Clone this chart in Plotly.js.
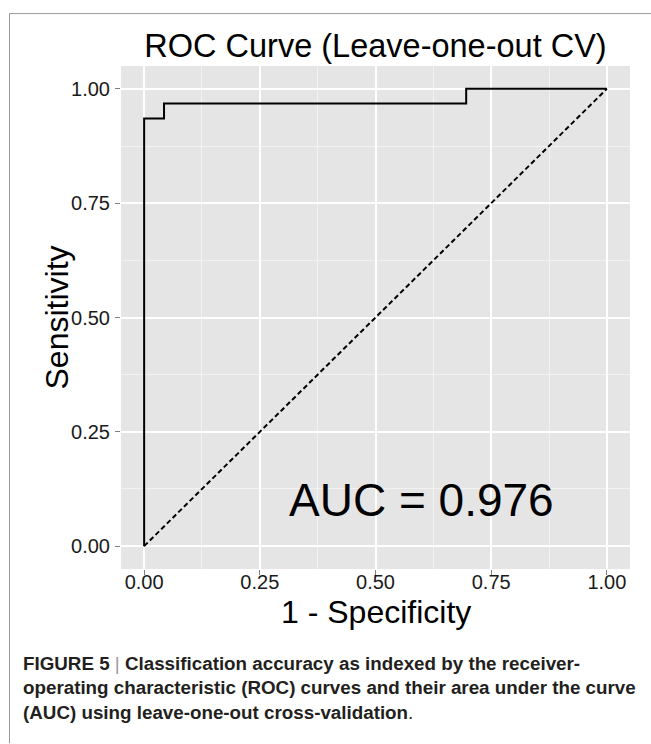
<!DOCTYPE html>
<html>
<head>
<meta charset="utf-8">
<script src="https://cdn.plot.ly/plotly-3.0.1.min.js"></script>
<style>html,body{margin:0;padding:0;background:#fff;}#chart{width:651px;height:744px;}</style>
</head>
<body>
<div id="chart"></div>
<script>
// ---- data ----
var rocFpr = [0, 0, 0.043, 0.696, 1];          // 1 - specificity at each step
var rocTpr = [0, 0.935, 0.968, 1, 1];          // sensitivity at each step
var chanceX = [0, 1];
var chanceY = [0, 1];
var tickVals = [0, 0.25, 0.5, 0.75, 1];
var tickText = ["0.00", "0.25", "0.50", "0.75", "1.00"];
var aucLabel = "AUC = 0.976";
var aucPos = [0.6, 0.1];
var titleText = "ROC Curve (Leave-one-out CV)";
var xTitle = "1 - Specificity";
var yTitle = "Sensitivity";
var captionLines = [
  "<b>FIGURE 5</b> <span style='color:#9a9a9a'>|</span> <b>Classification accuracy as indexed by the receiver-</b>",
  "<b>operating characteristic (ROC) curves and their area under the curve</b>",
  "<b>(AUC) using leave-one-out cross-validation</b>."
];

// ---- layout geometry (pixels) ----
var W = 651, H = 744;
var L = 121, R = 630, T = 66, B = 569.5;
var pw = R - L, ph = B - T;
function px(x){ return (x - L) / pw; }
function py(y){ return (B - y) / ph; }

var FONT = "'Liberation Sans', Arial, Helvetica, sans-serif";

var traces = [
  {x: chanceX, y: chanceY, type: "scatter", mode: "lines",
   line: {color: "#000", width: 2, dash: "5px,3px"}, hoverinfo: "skip", showlegend: false},
  {x: rocFpr, y: rocTpr, type: "scatter", mode: "lines",
   line: {color: "#000", width: 2, shape: "hv"}, hoverinfo: "skip", showlegend: false}
];

function axis(standoff){
  return {
    range: [-0.05, 1.05], autorange: false,
    tickvals: tickVals, ticktext: tickText,
    ticks: "outside", ticklen: 5, tickwidth: 1, tickcolor: "#7f7f7f",
    tickfont: {family: FONT, size: 20, color: "#1a1a1a"},
    ticklabelstandoff: standoff,
    showgrid: true, gridcolor: "#ffffff", gridwidth: 2,
    zeroline: false, showline: false,
    minor: {dtick: 0.125, tick0: 0, showgrid: true, gridcolor: "#f2f2f2", gridwidth: 1, ticks: ""},
    automargin: false, fixedrange: true
  };
}

var layout = {
  width: W, height: H,
  margin: {l: L, r: W - R, t: T, b: H - B, pad: 0},
  paper_bgcolor: "#ffffff", plot_bgcolor: "#e5e5e5",
  font: {family: FONT, color: "#000"},
  title: {text: titleText, font: {family: FONT, size: 32.5, color: "#000"},
          x: 0.5, xref: "paper", xanchor: "center", y: 1 - 46 / H, yref: "container", yanchor: "middle"},
  xaxis: axis(-10),
  yaxis: axis(1),
  showlegend: false,
  annotations: [
    {x: aucPos[0], y: aucPos[1], xref: "x", yref: "y", text: aucLabel, showarrow: false,
     font: {family: FONT, size: 46, color: "#000"}, xanchor: "center", yanchor: "middle"},
    // axis titles
    {x: 0.5, y: py(613), xref: "paper", yref: "paper", text: xTitle, showarrow: false,
     font: {family: FONT, size: 32, color: "#000"}, xanchor: "center", yanchor: "middle"},
    {x: px(56), y: 0.5, xref: "paper", yref: "y", text: yTitle, showarrow: false, textangle: -90,
     font: {family: FONT, size: 32, color: "#000"}, xanchor: "center", yanchor: "middle"},
    // figure caption
    {x: px(21), y: py(652), xref: "paper", yref: "paper", xanchor: "left", yanchor: "top", align: "left",
     text: captionLines.join("<br>"), showarrow: false,
     font: {family: FONT, size: 18.8, color: "#231f20"}}
  ],
  shapes: [
    {type: "line", xref: "paper", yref: "paper", x0: px(9.5), x1: px(651), y0: py(13.5), y1: py(13.5),
     line: {color: "#9a9a9a", width: 1}},
    {type: "line", xref: "paper", yref: "paper", x0: px(9.5), x1: px(9.5), y0: py(13.5), y1: py(744),
     line: {color: "#9a9a9a", width: 1}}
  ]
};

Plotly.newPlot("chart", traces, layout, {staticPlot: true, displayModeBar: false});
</script>
</body>
</html>
